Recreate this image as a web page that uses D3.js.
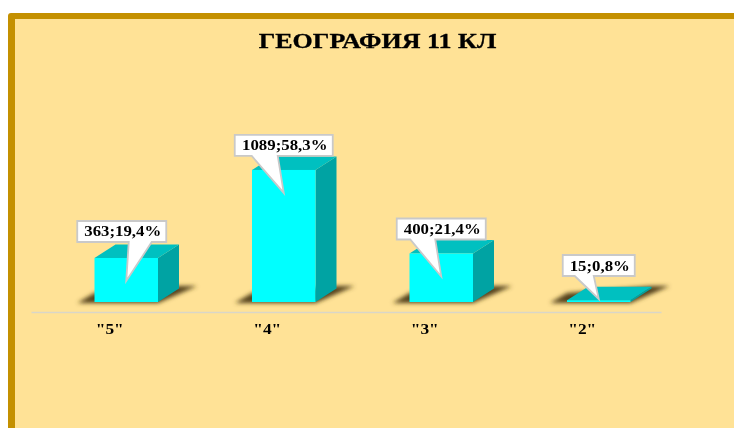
<!DOCTYPE html>
<html>
<head>
<meta charset="utf-8">
<script src="https://d3js.org/d3.v7.min.js"></script>
<style>
  html, body { margin: 0; padding: 0; background: #fff; overflow: hidden; }
  text { font-family: "Liberation Serif", serif; font-weight: bold; fill: #000; }
</style>
</head>
<body>
<script>
// chart data
var titleText = "ГЕОГРАФИЯ 11 КЛ";
var categories = ['"5"', '"4"', '"3"', '"2"'];
var counts = [363, 1089, 400, 15];
var percents = ["19,4%", "58,3%", "21,4%", "0,8%"];

var width = 734, height = 428;
var axisY = 312, baseY = 302;
var barW = 63.5, depthX = 21, depthY = 13.5, barShift = 16.5;

var svg = d3.select("body").append("svg")
    .attr("width", width)
    .attr("height", height)
    .style("display", "block");

var defs = svg.append("defs");

// shadow blur
defs.append("filter")
    .attr("id", "soft")
    .attr("x", "-20%").attr("y", "-50%").attr("width", "140%").attr("height", "200%")
  .append("feGaussianBlur")
    .attr("stdDeviation", 1.9);

// the reference text is a little soft
defs.append("filter")
    .attr("id", "textsoft")
    .attr("x", "-5%").attr("y", "-20%").attr("width", "110%").attr("height", "140%")
  .append("feGaussianBlur")
    .attr("stdDeviation", 0.25);

// stretch text sideways, the reference font is wider than Liberation
function stretch(sel, k) {
  sel.each(function() {
    var len = this.getComputedTextLength();
    d3.select(this)
      .attr("textLength", len * k)
      .attr("lengthAdjust", "spacingAndGlyphs");
  });
}

// frame and background
svg.append("rect")
    .attr("x", 8).attr("y", 13)
    .attr("width", 800).attr("height", 500)
    .attr("rx", 3)
    .attr("fill", "#c49000");
svg.append("rect")
    .attr("x", 15).attr("y", 19)
    .attr("width", 800).attr("height", 500)
    .attr("fill", "#ffe296");

svg.append("text")
    .attr("x", 377.5).attr("y", 48)
    .attr("text-anchor", "middle")
    .attr("filter", "url(#textsoft)")
    .style("font-size", "21.5px")
    .style("stroke", "#000")
    .style("stroke-width", 0.3)
    .text(titleText)
    .call(stretch, 1.21);

// scales
var x = d3.scaleBand().domain(categories).range([31, 661]);
var y = d3.scaleLinear().domain([0, 1200]).range([baseY, 156.5]);

var xAxis = svg.append("g")
    .attr("transform", "translate(0," + axisY + ")")
    .call(d3.axisBottom(x).tickSize(0).tickPadding(12));
xAxis.select(".domain").attr("stroke", "#d9d6c8").attr("stroke-width", 1.5);
xAxis.selectAll("text")
    .style("font-family", '"Liberation Serif", serif')
    .style("font-size", "14px")
    .attr("filter", "url(#textsoft)")
    .call(stretch, 1.24);

var data = categories.map(function(c, i) {
  var left = x(c) + x.bandwidth() / 2 + barShift - barW / 2;
  return {
    left: left,
    right: left + barW,
    top: y(counts[i]),
    label: counts[i] + ";" + percents[i]
  };
});

function poly(points) {
  return "M" + points.map(function(p) { return p.join(","); }).join("L") + "Z";
}

var bars = svg.selectAll(".bar").data(data).enter().append("g").attr("class", "bar");

// shadow on the floor
bars.append("path")
    .attr("d", function(d) {
      return poly([[d.left - 17, baseY + 1], [d.left, baseY - 9], [d.right + 21, baseY - 16],
                   [d.right + 39, baseY - 16], [d.right, baseY + 1]]);
    })
    .attr("fill", "#54421a")
    .attr("filter", "url(#soft)");

// side face
bars.append("path")
    .attr("d", function(d) {
      return poly([[d.right, d.top], [d.right + depthX, d.top - depthY],
                   [d.right + depthX, baseY - depthY], [d.right, baseY]]);
    })
    .attr("fill", "#00a3a3");

// top face
bars.append("path")
    .attr("d", function(d) {
      return poly([[d.left, d.top], [d.left + depthX, d.top - depthY],
                   [d.right + depthX, d.top - depthY], [d.right, d.top]]);
    })
    .attr("fill", "#00c0c0");

// front face
bars.append("rect")
    .attr("x", function(d) { return d.left; })
    .attr("y", function(d) { return d.top; })
    .attr("width", barW)
    .attr("height", function(d) { return baseY - d.top; })
    .attr("fill", "#00ffff");

// callouts
var boxH = 21;
var boxW = [89, 98, 89, 72];
var boxDx = [-4.5, 0, 0, 0];
var boxDy = [-39, -37, -37, -23];
var stemFrom = [7, -32, -31, -24];
var stemTo = [30, -6, -6, -5];

var callouts = svg.selectAll(".callout").data(data).enter().append("g").attr("class", "callout");

callouts.append("path")
    .attr("d", function(d, i) {
      var tipX = (d.left + d.right) / 2;
      var tipY = Math.min(d.top + 23, baseY - 3);
      var cx = tipX + boxDx[i];
      var x0 = cx - boxW[i] / 2, x1 = cx + boxW[i] / 2;
      var y1 = tipY + boxDy[i], y0 = y1 - boxH;
      return poly([[x0, y0], [x1, y0], [x1, y1], [cx + stemTo[i], y1], [tipX, tipY],
                   [cx + stemFrom[i], y1], [x0, y1]]);
    })
    .attr("fill", "#fff")
    .attr("stroke", "#c9c9c9")
    .attr("stroke-width", 1.8);

callouts.append("text")
    .attr("x", function(d, i) { return (d.left + d.right) / 2 + boxDx[i] + 1; })
    .attr("y", function(d, i) {
      return Math.min(d.top + 23, baseY - 3) + boxDy[i] - boxH / 2 + 5;
    })
    .attr("text-anchor", "middle")
    .attr("filter", "url(#textsoft)")
    .style("font-size", "14px")
    .text(function(d) { return d.label; })
    .call(stretch, 1.2);
</script>
</body>
</html>
